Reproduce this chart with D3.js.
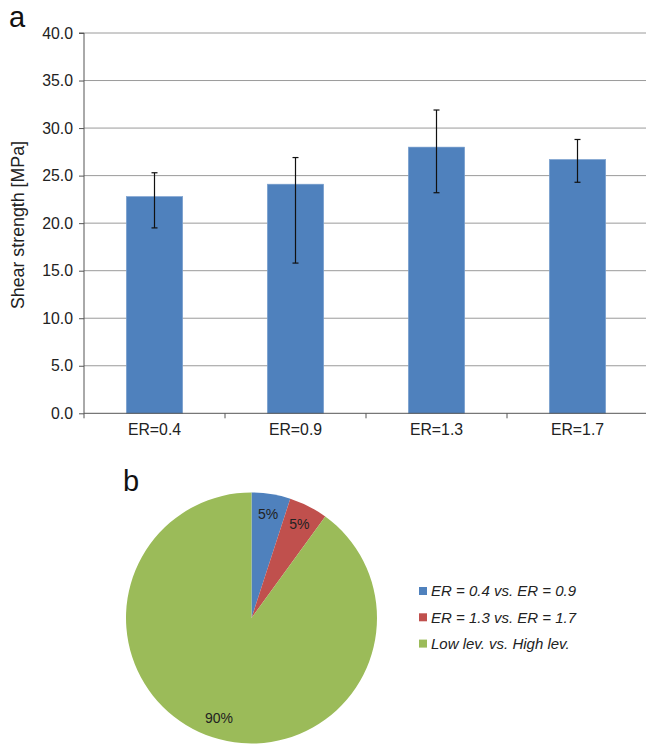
<!DOCTYPE html>
<html>
<head>
<meta charset="utf-8">
<script src="https://cdn.jsdelivr.net/npm/d3@7"></script>
<style>
  html, body { margin: 0; padding: 0; background: #fff; }
  svg { display: block; font-family: "Liberation Sans", Arial, sans-serif; }
</style>
</head>
<body>
<svg id="chart" width="646" height="744"></svg>
<script>
// Panel a: shear strength per equivalence ratio
const categories = ["ER=0.4", "ER=0.9", "ER=1.3", "ER=1.7"];
const strength = [22.8, 24.1, 28.0, 26.7];
const errUpper = [25.3, 26.9, 31.9, 28.8];
const errLower = [19.5, 15.8, 23.2, 24.3];
const yTicks = [0, 5, 10, 15, 20, 25, 30, 35, 40];

// Panel b: share of contributions
const pieLabels = ["ER = 0.4 vs. ER = 0.9", "ER = 1.3 vs. ER = 1.7", "Low lev. vs. High lev."];
const pieValues = [5, 5, 90];
const pieColors = ["#4F81BD", "#C0504D", "#9BBB59"];

const svg = d3.select("#chart");
const FONT = "'Liberation Sans', Arial, sans-serif";

// ---------- bar chart ----------
const plot = { left: 84, right: 648, top: 33, bottom: 413.3 };
const x = d3.scaleBand().domain(categories).range([plot.left, plot.right]).paddingInner(0.6).paddingOuter(0.3);
const xOuter = d3.scaleBand().domain(categories).range([plot.left, plot.right]);
const y = d3.scaleLinear().domain([0, 40]).range([plot.bottom, plot.top]);

// gridlines
svg.append("g").selectAll("line").data(yTicks.filter(d => d > 0)).join("line")
  .attr("x1", plot.left).attr("x2", plot.right)
  .attr("y1", d => y(d)).attr("y2", d => y(d))
  .attr("stroke", "#9a9a9a").attr("stroke-width", 1);

// bars
svg.append("g").selectAll("rect").data(strength).join("rect")
  .attr("x", (d, i) => x(categories[i]))
  .attr("width", x.bandwidth())
  .attr("y", d => y(d))
  .attr("height", d => y(0) - y(d))
  .attr("fill", "#4F81BD")
  .attr("stroke", "#7fa3d1").attr("stroke-width", 0.6);

// error bars
const eb = svg.append("g").attr("stroke", "#111").attr("stroke-width", 1.2);
categories.forEach((c, i) => {
  const cx = x(c) + x.bandwidth() / 2;
  eb.append("line").attr("x1", cx).attr("x2", cx).attr("y1", y(errUpper[i])).attr("y2", y(errLower[i]));
  eb.append("line").attr("x1", cx - 3).attr("x2", cx + 3).attr("y1", y(errUpper[i])).attr("y2", y(errUpper[i]));
  eb.append("line").attr("x1", cx - 3).attr("x2", cx + 3).attr("y1", y(errLower[i])).attr("y2", y(errLower[i]));
});

// y axis
const yAxis = d3.axisLeft(y).tickValues(yTicks).tickFormat(d3.format(".1f")).tickSize(5).tickPadding(6);
const gy = svg.append("g").attr("transform", `translate(${plot.left},0)`).call(yAxis);
gy.select(".domain").attr("stroke", "#555").attr("d", `M-5,${y(40)}H0V${y(0)}`);
gy.selectAll(".tick line").attr("stroke", "#555");
gy.selectAll("text").attr("fill", "#222").style("font-size", "15.8px").style("font-family", FONT);

// x axis with boundary ticks
const gx = svg.append("g").attr("transform", `translate(0,${plot.bottom})`);
gx.append("line").attr("x1", plot.left).attr("x2", plot.right).attr("stroke", "#555");
gx.selectAll("line.tk").data(categories).join("line").attr("class", "tk")
  .attr("x1", d => xOuter(d)).attr("x2", d => xOuter(d))
  .attr("y1", 0).attr("y2", 5).attr("stroke", "#555");
gx.selectAll("text").data(categories).join("text")
  .attr("x", d => x(d) + x.bandwidth() / 2).attr("y", 22)
  .attr("text-anchor", "middle").attr("fill", "#222").style("font-size", "15.8px")
  .text(d => d);

// y axis title
svg.append("text")
  .attr("transform", `translate(24,225) rotate(-90)`)
  .attr("text-anchor", "middle").attr("fill", "#222").style("font-size", "17.8px")
  .text("Shear strength [MPa]");

// panel letters
svg.append("text").attr("x", 9).attr("y", 27).style("font-size", "29px").attr("fill", "#111").text("a");
svg.append("text").attr("x", 123).attr("y", 490.5).style("font-size", "29px").attr("fill", "#111").text("b");

// ---------- pie chart ----------
const cx = 251.5, cy = 618, r = 125.5;
const pie = d3.pie().sort(null).value(d => d)(pieValues);
const arc = d3.arc().innerRadius(0).outerRadius(r);
const labelArc = d3.arc().innerRadius(r * 0.84).outerRadius(r * 0.84);
const gp = svg.append("g").attr("transform", `translate(${cx},${cy})`);
gp.selectAll("path").data(pie).join("path")
  .attr("d", arc).attr("fill", (d, i) => pieColors[i]);
gp.selectAll("text").data(pie).join("text")
  .attr("transform", d => `translate(${labelArc.centroid(d)})`)
  .attr("text-anchor", "middle").attr("dy", "0.35em")
  .attr("fill", "#222").style("font-size", "14px")
  .text(d => d.data + "%");

// legend
const lg = svg.append("g").attr("transform", "translate(419,591)");
const rows = lg.selectAll("g").data(pieLabels).join("g")
  .attr("transform", (d, i) => `translate(0,${i * 26.3})`);
rows.append("rect").attr("x", 0).attr("y", -4).attr("width", 8).attr("height", 8)
  .attr("fill", (d, i) => pieColors[i]);
rows.append("text").attr("x", 12).attr("y", 0).attr("dy", "0.35em")
  .style("font-size", "15px").style("font-style", "italic").attr("fill", "#222")
  .text(d => d);
</script>
</body>
</html>
